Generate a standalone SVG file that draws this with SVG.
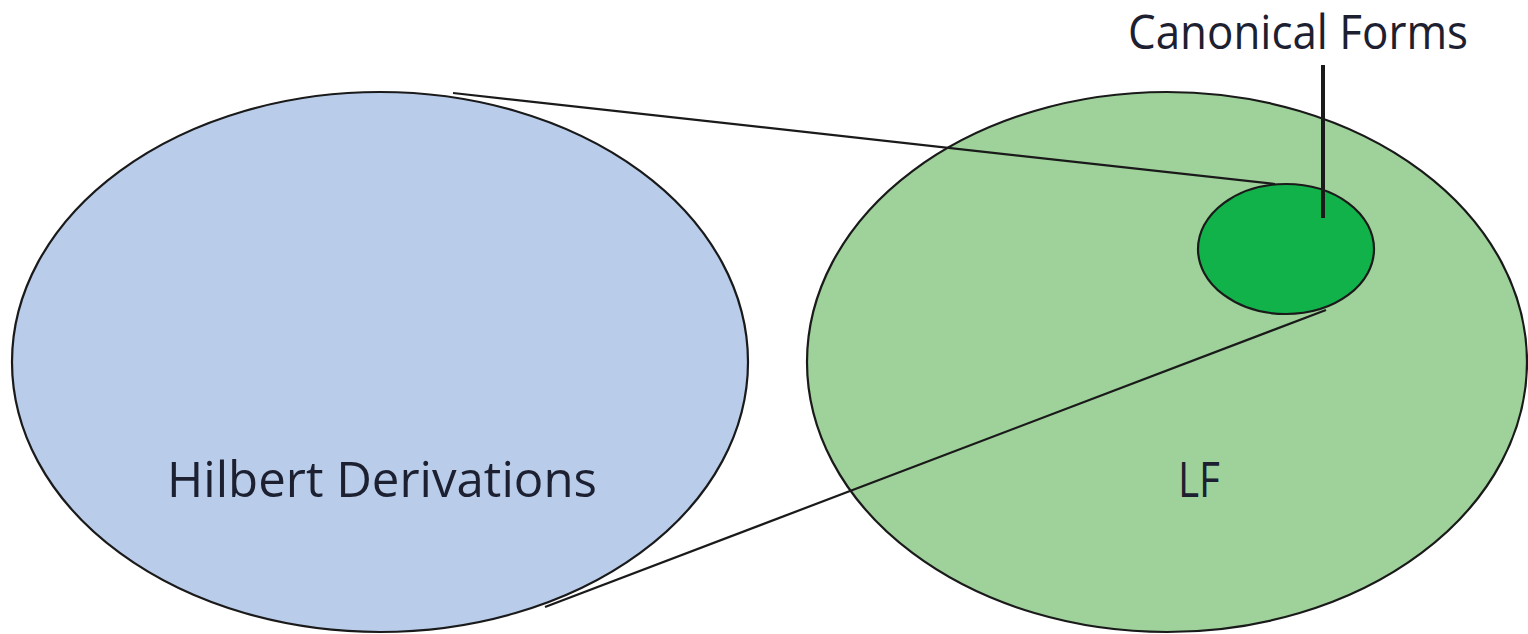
<svg xmlns="http://www.w3.org/2000/svg" width="1528" height="634" viewBox="0 0 1528 634">
<style>
.sh{stroke:#1a1a1a;stroke-width:2.2}
.ln{stroke:#1a1a1a;stroke-width:2.2;fill:none}
.t{font-family:"Open Sans","Liberation Sans",sans-serif;fill:#1c2030}
</style>
<rect width="1528" height="634" fill="#ffffff"/>
<g id="hilbert">
<ellipse class="sh" cx="380" cy="362" rx="368" ry="270" fill="#b9cdeb"/>
<text class="t" x="167" y="497" font-size="50" textLength="430" lengthAdjust="spacingAndGlyphs">Hilbert Derivations</text>
</g>
<g id="lf">
<ellipse class="sh" cx="1167" cy="362" rx="360" ry="270" fill="#9fd29b"/>
<text class="t" x="1178" y="497" font-size="50" textLength="42" lengthAdjust="spacingAndGlyphs">LF</text>
</g>
<g id="canonical">
<ellipse class="sh" cx="1286" cy="249" rx="88" ry="65" fill="#12b24b"/>
<text class="t" x="1128" y="49" font-size="47" textLength="340" lengthAdjust="spacingAndGlyphs">Canonical Forms</text>
</g>
<g id="connectors">
<polyline class="ln" points="453,93 1275,184"/>
<polyline class="ln" points="545,607 1326,310"/>
<line x1="1323" y1="65" x2="1323" y2="218" stroke="#1a1a1a" stroke-width="4"/>
</g>
</svg>
